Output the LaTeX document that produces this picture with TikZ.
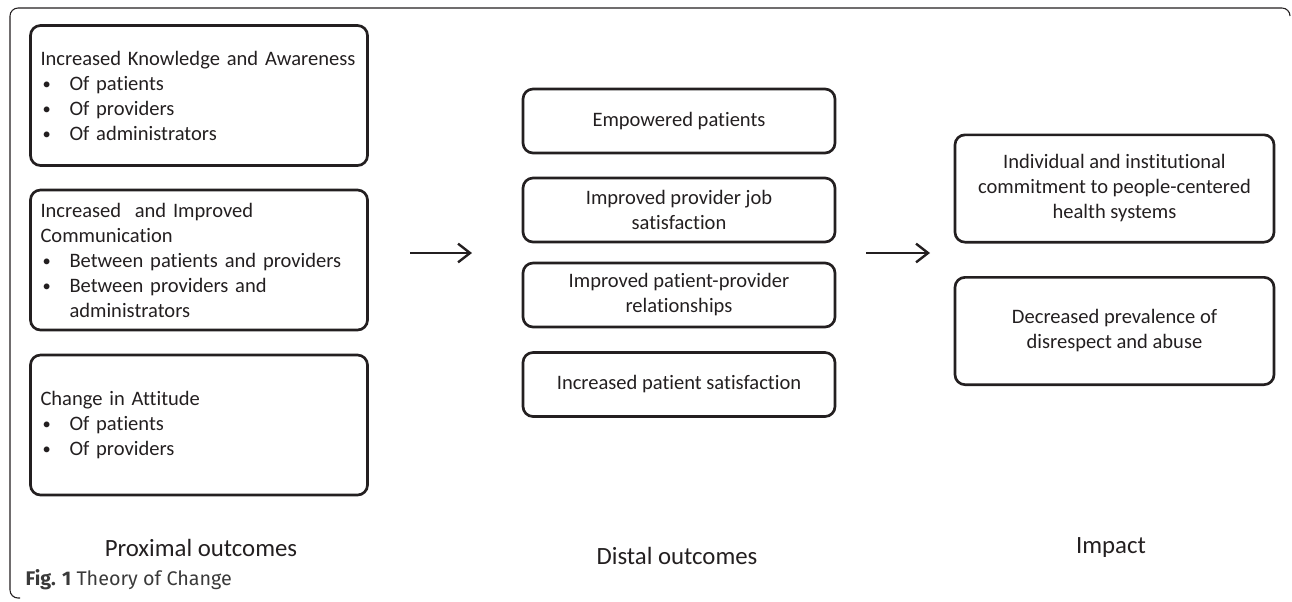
\documentclass[tikz,border=0pt]{standalone}
\usepackage{fontspec}
\setmainfont{Carlito}[Ligatures=NoCommon]
\newfontfamily\capfont{Fira Sans}
\usetikzlibrary{arrows.meta}
\definecolor{ink}{HTML}{231F20}
\definecolor{capgray}{HTML}{3A3A3A}
\newcommand{\bul}[1]{\makebox[21.75pt][l]{\hspace{1.5pt}\raisebox{0.5pt}{\scalebox{0.8}{\textbullet}}}#1}
\newcommand{\indnt}{\hspace*{21.75pt}}

\begin{document}
\begin{tikzpicture}[x=0.75pt, y=-0.75pt,
    boxfont/.style={font=\fontsize{15.4}{18.75}\selectfont},
    outbox/.style={rectangle, draw=ink, text=ink, line width=2pt, rounded corners=7.5pt, boxfont},
    leftbox/.style={outbox, minimum width=252.75pt, minimum height=105pt, text width=237.75pt, align=left, inner xsep=7.5pt},
    midbox/.style={outbox, minimum width=234pt, minimum height=48pt, align=center},
    rightbox/.style={outbox, minimum width=239.25pt, minimum height=80.5pt, align=center},
    colname/.style={text=ink, font=\fontsize{18.6}{22}\selectfont},
    flow/.style={draw=ink, line width=1.6pt, -{Straight Barb[length=9pt, width=14pt, line width=1.8pt]}}]
    \useasboundingbox (0,0) rectangle (1292,601);
    % frame
    \draw [ink, line width=0.8pt, rounded corners=6pt] (1290,16) -- (1290,8) -- (10,8) -- (10,598) -- (20,598);
    % proximal outcomes
    \node [leftbox, name=prox_know] at (199, 95.5) {Increased Knowledge and Awareness\\ \bul{Of patients}\\ \bul{Of providers}\\ \bul{Of administrators}};
    \node [leftbox, name=prox_comm] at (199, 260) {Increased\ \ and Improved\\ Communication\\ \bul{Between patients and providers}\\ \bul{Between providers and}\\ \indnt administrators};
    \node [leftbox, name=prox_att] at (199, 425) {Change in Attitude\\ \bul{Of patients}\\ \bul{Of providers}};
    % distal outcomes
    \node [midbox, name=dist_emp] at (679, 121) {Empowered patients};
    \node [midbox, name=dist_job] at (679, 210) {Improved provider job\\ satisfaction};
    \node [midbox, name=dist_rel] at (679, 295) {Improved patient-provider\\ relationships};
    \node [midbox, name=dist_sat] at (679, 384.5) {Increased patient satisfaction};
    % impact
    \node [rightbox, name=imp_comm] at (1114.5, 188.5) {Individual and institutional\\ commitment to people-centered\\ health systems};
    \node [rightbox, name=imp_dis] at (1114.5, 331) {Decreased prevalence of\\ disrespect and abuse};
    % arrows
    \coordinate (arr1_s) at (410, 253);
    \coordinate (arr1_e) at (472, 253);
    \coordinate (arr2_s) at (866, 253);
    \coordinate (arr2_e) at (930, 253);
    \draw [flow] (arr1_s) -- (arr1_e);
    \draw [flow] (arr2_s) -- (arr2_e);
    % column names
    \node [colname, name=lbl_prox] at (201, 548) {Proximal outcomes};
    \node [colname, name=lbl_dist] at (677, 556) {Distal outcomes};
    \node [colname, name=lbl_imp] at (1111, 548) {Impact};
    \node [anchor=west, text=capgray, font=\capfont\fontsize{14.8}{17}\selectfont, name=caption] at (21, 580) {\textbf{Fig. 1} Theory of Change};
\end{tikzpicture}
\end{document}
